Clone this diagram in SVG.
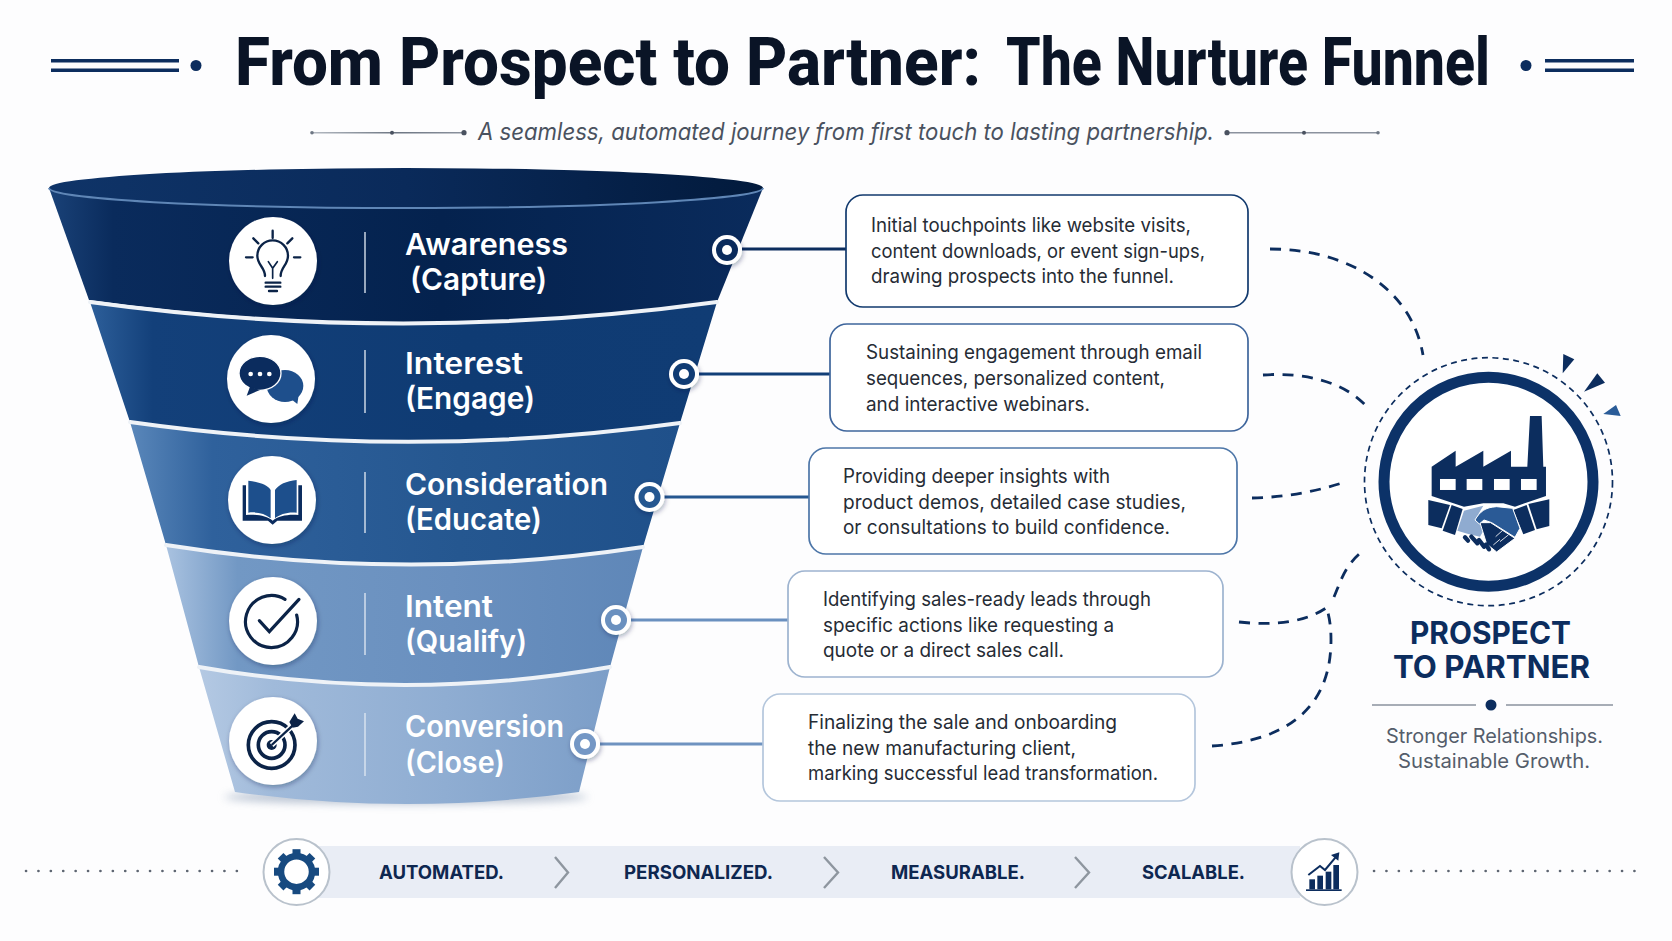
<svg xmlns="http://www.w3.org/2000/svg" width="1672" height="941" viewBox="0 0 1672 941">
<style>
.title{font:800 66px Roboto,"Liberation Sans",sans-serif;fill:#0a1426}
.sub{font:italic 400 24px Inter,"Noto Sans",sans-serif;fill:#4a5260}
.lab{font:600 30px Inter,"Liberation Sans",sans-serif;fill:#fff}
.body{font:400 19.5px Inter,"Noto Sans",sans-serif;fill:#262c35}
.big{font:700 31px Inter,"Liberation Sans",sans-serif;fill:#0c2d5e}
.tag{font:400 20px Inter,"Noto Sans",sans-serif;fill:#555d6b}
.key{font:700 19px Inter,"Liberation Sans",sans-serif;fill:#0e2750}
.box{fill:#fff;stroke-width:1.7}
.rim{fill:none;stroke:#eef2f7;stroke-width:4;stroke-linecap:round}
.dv{stroke:#dfe7f2;stroke-width:1.6;opacity:.85}
.disc{fill:#fff;filter:url(#sh)}
.ln{stroke-width:3;fill:none}
.dash{fill:none;stroke:#0c2d5e;stroke-width:2.8;stroke-dasharray:11 8.500}
.ink{fill:none;stroke:#0b2347;stroke-width:7;stroke-linecap:round}
.ink.thick{stroke-width:9.500}
.ink.thin{stroke-width:5}
.chev{fill:none;stroke:#8e969f;stroke-width:2.4}
.dots{stroke:#5e6672;stroke-width:2.6;stroke-linecap:round;stroke-dasharray:0.1 12.3;fill:none}
.fine{stroke:#8b929e;stroke-width:1.6}
.navy{fill:#0c2d5e}
.bubble{fill:#fff;stroke:#b9c2cc;stroke-width:2}
</style>
<defs>
<filter id="sh" x="-30%" y="-30%" width="160%" height="160%"><feDropShadow dx="1" dy="2" stdDeviation="2.5" flood-color="#0a1f44" flood-opacity=".35"/></filter>
<filter id="blur" x="-20%" y="-100%" width="140%" height="300%"><feGaussianBlur stdDeviation="4"/></filter>
<linearGradient id="g1"><stop offset="0" stop-color="#1a4278"/><stop offset=".09" stop-color="#0a2b5c"/><stop offset=".55" stop-color="#04224e"/><stop offset="1" stop-color="#0a2b5c"/></linearGradient>
<linearGradient id="g2"><stop offset="0" stop-color="#2d5f9a"/><stop offset=".1" stop-color="#13407a"/><stop offset=".6" stop-color="#0f3b73"/><stop offset="1" stop-color="#103c74"/></linearGradient>
<linearGradient id="g3"><stop offset="0" stop-color="#5a87ba"/><stop offset=".15" stop-color="#2f619c"/><stop offset=".6" stop-color="#255790"/><stop offset="1" stop-color="#1f508a"/></linearGradient>
<linearGradient id="g4"><stop offset="0" stop-color="#a9c2e0"/><stop offset=".15" stop-color="#7298c4"/><stop offset=".6" stop-color="#6a90bf"/><stop offset="1" stop-color="#5f87b8"/></linearGradient>
<linearGradient id="g5"><stop offset="0" stop-color="#b4c9e3"/><stop offset=".18" stop-color="#a0bada"/><stop offset=".6" stop-color="#8fadd2"/><stop offset="1" stop-color="#7c9ec8"/></linearGradient>
<linearGradient id="mouth" x1="0" x2="1" y1="0" y2="0"><stop offset="0" stop-color="#0f3468"/><stop offset=".5" stop-color="#0a2a5a"/><stop offset="1" stop-color="#021a3c"/></linearGradient>
<linearGradient id="fadeL" gradientUnits="userSpaceOnUse" x1="312" y1="0" x2="464" y2="0"><stop offset="0" stop-color="#b4bac2"/><stop offset=".55" stop-color="#6d7683"/><stop offset="1" stop-color="#8b929e"/></linearGradient>
</defs>
<rect width="1672" height="941" fill="#fdfdfe"/>

<g id="header">
<rect class="navy" x="51" y="59" width="128" height="3.500"/><rect class="navy" x="51" y="68.500" width="128" height="3.500"/>
<ellipse class="navy" cx="196" cy="65.500" rx="5.500" ry="5.500"/>
<text class="title" y="85"><tspan x="235" textLength="746" lengthAdjust="spacingAndGlyphs">From Prospect to Partner:</tspan> <tspan x="1006" textLength="484" lengthAdjust="spacingAndGlyphs">The Nurture Funnel</tspan></text>
<ellipse class="navy" cx="1526" cy="65.500" rx="5.500" ry="5.500"/>
<rect class="navy" x="1545" y="59" width="89" height="3.500"/><rect class="navy" x="1545" y="68.500" width="89" height="3.500"/>
<path d="M312 132.700H464" stroke="url(#fadeL)" stroke-width="1.600"/>
<circle cx="312" cy="132.700" r="1.800" fill="#6d7683"/><circle cx="392" cy="132.700" r="2" fill="#4a5260"/><circle cx="464" cy="132.700" r="2.600" fill="#4a5260"/>
<text class="sub" x="478" y="140" textLength="736" lengthAdjust="spacingAndGlyphs">A seamless, automated journey from first touch to lasting partnership.</text>
<path d="M1227 132.700H1378" stroke="#8b929e" stroke-width="1.600"/>
<circle cx="1227" cy="132.700" r="2.600" fill="#4a5260"/><circle cx="1304" cy="132.700" r="2" fill="#4a5260"/><circle cx="1378" cy="132.700" r="1.800" fill="#6d7683"/>
</g>

<g id="connectors">
<path class="ln" stroke="#0c2d5e" d="M742 249H846"/>
<path class="ln" stroke="#123f78" d="M699 374H830"/>
<path class="ln" stroke="#255790" d="M664 497H809"/>
<path class="ln" stroke="#6a90bf" d="M631 620H788"/>
<path class="ln" stroke="#6f93c0" d="M600 744H763"/>
<path class="dash" d="M1270 249C1350 249 1412 290 1423 355"/>
<path class="dash" d="M1263 375C1305 372 1345 382 1367 407"/>
<path class="dash" d="M1252 498Q1300 497 1345 482"/>
<path class="dash" d="M1239 622C1275 626 1305 622 1326 608"/>
<path class="dash" d="M1212 746C1270 742 1331 720 1331 640C1331 625 1329 615 1326 606"/>
<path class="dash" d="M1334 597C1342 578 1345 565 1364 550"/>
</g>

<ellipse cx="406" cy="797" rx="182" ry="7" fill="#7f93ad" opacity=".55" filter="url(#blur)"/>

<g id="stage-conversion">
<path d="M199 667L235 792Q407 816 579 792L610 667Q405 703 199 667Z" fill="url(#g5)"/>
<line class="dv" x1="365" y1="713" x2="365" y2="776"/>
<circle class="disc" cx="273" cy="741" r="44"/>
<g transform="translate(200 560) scale(.3333)">
<circle cx="215" cy="555" r="70" fill="none" stroke="#0b2347" stroke-width="11"/>
<circle cx="215" cy="555" r="40" fill="none" stroke="#0b2347" stroke-width="11"/>
<circle cx="215" cy="555" r="15" fill="#0b2347"/>
<path d="M215 555L285 490" stroke="#fff" stroke-width="16"/>
<path d="M215 555L285 490" stroke="#0b2347" stroke-width="7"/>
<path d="M268 486L284 460L293 476L312 484L294 500L278 503Z" fill="#0b2347"/>
</g>
<text class="lab" x="405" y="737" textLength="159" lengthAdjust="spacingAndGlyphs">Conversion</text>
<text class="lab" x="405" y="773" textLength="100" lengthAdjust="spacingAndGlyphs">(Close)</text>
<circle class="disc" cx="585" cy="744" r="15"/><circle cx="585" cy="744" r="11" fill="#7497c5"/><circle cx="585" cy="744" r="5" fill="#fff"/>
</g>

<g id="stage-intent">
<path d="M166 545L199 667Q405 703 610 667L643 547Q405 583 166 545Z" fill="url(#g4)"/>
<path class="rim" d="M199 667Q405 703 610 667"/>
<line class="dv" x1="365" y1="593" x2="365" y2="655"/>
<circle class="disc" cx="273" cy="621" r="44"/>
<g transform="translate(200 560) scale(.3333)">
<path class="ink thick" d="M255 118A78 78 0 1 0 290 165"/>
<path class="ink thick" d="M178 182L208 215L297 118"/>
</g>
<text class="lab" x="405" y="617" textLength="88" lengthAdjust="spacingAndGlyphs">Intent</text>
<text class="lab" x="405" y="652" textLength="122" lengthAdjust="spacingAndGlyphs">(Qualify)</text>
<circle class="disc" cx="616" cy="620" r="15"/><circle cx="616" cy="620" r="11" fill="#6a90bf"/><circle cx="616" cy="620" r="5" fill="#fff"/>
</g>

<g id="stage-consideration">
<path d="M130 422L166 545Q405 583 643 547L680 423Q405 461 130 422Z" fill="url(#g3)"/>
<path class="rim" d="M166 545Q405 583 643 547"/>
<line class="dv" x1="365" y1="472" x2="365" y2="533"/>
<circle class="disc" cx="272" cy="500" r="44"/>
<g transform="translate(200 210) scale(.3333)">
<path d="M128 826H138V915C170 912 200 918 218 932C235 918 265 912 295 915V826H306V932H232L218 944L204 932H128Z" fill="#0b2c5e"/>
<path d="M145 812C175 815 205 825 212 840V925C195 910 170 905 145 908Z" fill="#1d4f8c"/>
<path d="M225 840C235 825 260 812 290 810V908C265 905 240 912 225 925Z" fill="#1d4f8c"/>
</g>
<text class="lab" x="405" y="495" textLength="203" lengthAdjust="spacingAndGlyphs">Consideration</text>
<text class="lab" x="405" y="530" textLength="137" lengthAdjust="spacingAndGlyphs">(Educate)</text>
<circle class="disc" cx="649.500" cy="497" r="15"/><circle cx="649.500" cy="497" r="11" fill="#255790"/><circle cx="649.500" cy="497" r="5" fill="#fff"/>
</g>

<g id="stage-interest">
<path d="M90 302L130 422Q405 461 680 423L717 302Q405 343 90 302Z" fill="url(#g2)"/>
<path class="rim" d="M130 422Q405 461 680 423"/>
<line class="dv" x1="365" y1="350" x2="365" y2="413"/>
<circle class="disc" cx="271" cy="379" r="44"/>
<g transform="translate(200 210) scale(.3333)">
<ellipse cx="255" cy="528" rx="55" ry="48" fill="#1e4f8c"/><path d="M270 565L292 582L296 555Z" fill="#1e4f8c"/>
<ellipse cx="180" cy="490" rx="63" ry="51" fill="#0b2c5e" stroke="#fff" stroke-width="4"/>
<path d="M150 530L140 557L180 540Z" fill="#0b2c5e"/>
<circle cx="152" cy="492" r="7" fill="#fff"/><circle cx="180" cy="492" r="7" fill="#fff"/><circle cx="208" cy="492" r="7" fill="#fff"/>
</g>
<text class="lab" x="405" y="374" textLength="118" lengthAdjust="spacingAndGlyphs">Interest</text>
<text class="lab" x="405" y="409" textLength="130" lengthAdjust="spacingAndGlyphs">(Engage)</text>
<circle class="disc" cx="684" cy="374" r="15"/><circle cx="684" cy="374" r="11" fill="#103c74"/><circle cx="684" cy="374" r="5" fill="#fff"/>
</g>

<g id="stage-awareness">
<path d="M49 188L89 300Q403 344 717 302L763 188Z" fill="url(#g1)"/>
<path class="rim" d="M90 302Q403 345 717 302"/>
<ellipse cx="406" cy="188" rx="357" ry="20" fill="url(#mouth)"/>
<path d="M49 188A357 20 0 0 0 763 188" fill="none" stroke="#5f86b6" stroke-width="2"/>
<line class="dv" x1="365" y1="232" x2="365" y2="293"/>
<circle class="disc" cx="273" cy="261" r="44"/>
<g transform="translate(200 210) scale(.3333)">
<path class="ink" d="M195 198C195 172 172 165 172 137A46 46 0 1 1 264 137C264 165 242 172 242 198"/>
<path class="ink thin" d="M205 155L218 175L232 155M218 175V205"/>
<path class="ink" d="M197 218H241M197 230H241M207 243H231"/>
<path class="ink" d="M218 62V84M160 85L175 100M277 85L262 100M138 142H158M282 142H301"/>
</g>
<text class="lab" x="405" y="255" textLength="163" lengthAdjust="spacingAndGlyphs">Awareness</text>
<text class="lab" x="410" y="290" textLength="137" lengthAdjust="spacingAndGlyphs">(Capture)</text>
<circle class="disc" cx="727" cy="250" r="15"/><circle cx="727" cy="250" r="11" fill="#0a2b5c"/><circle cx="727" cy="250" r="5" fill="#fff"/>
</g>

<g id="note-awareness">
<rect class="box" x="846" y="195" width="402" height="112" rx="17" stroke="#123a6e"/>
<text class="body" x="871" y="232" textLength="320" lengthAdjust="spacingAndGlyphs">Initial touchpoints like website visits,</text>
<text class="body" x="871" y="258" textLength="334" lengthAdjust="spacingAndGlyphs">content downloads, or event sign-ups,</text>
<text class="body" x="871" y="283" textLength="303" lengthAdjust="spacingAndGlyphs">drawing prospects into the funnel.</text>
</g>
<g id="note-interest">
<rect class="box" x="830" y="324" width="418" height="107" rx="17" stroke="#3e659c"/>
<text class="body" x="866" y="359" textLength="336" lengthAdjust="spacingAndGlyphs">Sustaining engagement through email</text>
<text class="body" x="866" y="385" textLength="299" lengthAdjust="spacingAndGlyphs">sequences, personalized content,</text>
<text class="body" x="866" y="411" textLength="224" lengthAdjust="spacingAndGlyphs">and interactive webinars.</text>
</g>
<g id="note-consideration">
<rect class="box" x="809" y="448" width="428" height="106" rx="17" stroke="#4d76a8"/>
<text class="body" x="843" y="483" textLength="267" lengthAdjust="spacingAndGlyphs">Providing deeper insights with</text>
<text class="body" x="843" y="509" textLength="343" lengthAdjust="spacingAndGlyphs">product demos, detailed case studies,</text>
<text class="body" x="843" y="534" textLength="327" lengthAdjust="spacingAndGlyphs">or consultations to build confidence.</text>
</g>
<g id="note-intent">
<rect class="box" x="788" y="571" width="435" height="106" rx="17" stroke="#9db3cf"/>
<text class="body" x="823" y="606" textLength="328" lengthAdjust="spacingAndGlyphs">Identifying sales-ready leads through</text>
<text class="body" x="823" y="632" textLength="291" lengthAdjust="spacingAndGlyphs">specific actions like requesting a</text>
<text class="body" x="823" y="657" textLength="241" lengthAdjust="spacingAndGlyphs">quote or a direct sales call.</text>
</g>
<g id="note-conversion">
<rect class="box" x="763" y="694" width="432" height="107" rx="17" stroke="#b4c6dc"/>
<text class="body" x="808" y="729" textLength="309" lengthAdjust="spacingAndGlyphs">Finalizing the sale and onboarding</text>
<text class="body" x="808" y="755" textLength="268" lengthAdjust="spacingAndGlyphs">the new manufacturing client,</text>
<text class="body" x="808" y="780" textLength="350" lengthAdjust="spacingAndGlyphs">marking successful lead transformation.</text>
</g>

<g id="partner">
<circle cx="1488.500" cy="481.700" r="124" fill="none" stroke="#0c2d5e" stroke-width="1.700" stroke-dasharray="6 4.500"/>
<circle cx="1488.500" cy="481.700" r="104.500" fill="#fff" stroke="#0c3268" stroke-width="11"/>
<path class="navy" d="M1563.300 354L1574.300 359.300L1562.700 373.300Z"/>
<path class="navy" d="M1597.300 373.300L1605 382.700L1584 391.700Z"/>
<path d="M1616 405L1620.700 416L1603.300 414Z" fill="#2a5c98"/>
<g transform="translate(1340 340) scale(.3333)">
<path class="navy" d="M275 380L347 332V380L430 332V380L513 332V380H562L570 228H605L610 380H618V468L525 500L490 490H430L372 500L275 468Z"/>
<g fill="#fff"><rect x="300" y="417" width="47" height="33"/><rect x="380" y="417" width="47" height="33"/><rect x="462" y="417" width="47" height="33"/><rect x="543" y="417" width="47" height="33"/></g>
<path class="navy" d="M265 480L330 495L305 565L265 555Z"/><path class="navy" d="M335 495L368 507L345 585L308 572Z"/>
<path class="navy" d="M520 510L560 495L585 570L550 583Z"/><path class="navy" d="M565 492L628 478V558L590 568Z"/>
<path d="M372 512L430 497L405 540L440 555L420 590L385 582L352 572Z" fill="#8fabd0"/>
<path d="M420 548L452 548L525 595L470 636L440 612Z" fill="#0c2d5e" stroke="#fff" stroke-width="3"/>
<path d="M405 540C420 515 435 502 470 500L518 505L540 565L525 592L455 548L432 540L418 552Z" fill="#2a5a96" stroke="#fff" stroke-width="3"/>
<path d="M487 572L467 590M505 585L480 605M460 615L480 598" stroke="#fff" stroke-width="2.500"/>
<path d="M375 592L384 602M394 590L412 610M417 600L432 620M438 614L447 628" stroke="#0c2d5e" stroke-width="13" stroke-linecap="round"/>
</g>
<text class="big" x="1410" y="644" textLength="161" lengthAdjust="spacingAndGlyphs">PROSPECT</text>
<text class="big" x="1393" y="678" textLength="197" lengthAdjust="spacingAndGlyphs">TO PARTNER</text>
<path class="fine" d="M1372 705H1476M1506 705H1613"/>
<circle class="navy" cx="1491" cy="705" r="5.500"/>
<text class="tag" x="1386" y="743" textLength="217" lengthAdjust="spacingAndGlyphs">Stronger Relationships.</text>
<text class="tag" x="1398" y="768" textLength="192" lengthAdjust="spacingAndGlyphs">Sustainable Growth.</text>
</g>

<g id="footer">
<path class="dots" d="M26 871H245"/>
<path class="dots" d="M1374 871H1642"/>
<rect x="315" y="846" width="985" height="52" fill="#e9edf5"/>
<circle class="bubble" cx="296.500" cy="872" r="33"/>
<g fill="#174a80" transform="translate(296.500 871.700)">
<rect x="-4" y="-22.500" width="8" height="45"/>
<rect x="-4" y="-22.500" width="8" height="45" transform="rotate(45)"/>
<rect x="-4" y="-22.500" width="8" height="45" transform="rotate(90)"/>
<rect x="-4" y="-22.500" width="8" height="45" transform="rotate(135)"/>
<circle r="15.500" fill="#fff" stroke="#174a80" stroke-width="6.500"/>
</g>
<circle class="bubble" cx="1324.500" cy="872" r="33"/>
<g transform="translate(1270 820) scale(.3333)" class="navy">
<rect x="118" y="178" width="17" height="30"/><rect x="142" y="167" width="17" height="41"/><rect x="167" y="155" width="17" height="53"/><rect x="190" y="135" width="17" height="73"/>
<rect x="108" y="208" width="107" height="5"/>
<path d="M115 165L150 138L165 150L196 113" fill="none" stroke="#0c2d5e" stroke-width="6"/>
<path d="M183 105L208 97L205 122Z"/>
</g>
<text class="key" x="379" y="879" textLength="125" lengthAdjust="spacingAndGlyphs">AUTOMATED.</text>
<path class="chev" d="M555 857L568 872.500L555 888"/>
<text class="key" x="624" y="879" textLength="149" lengthAdjust="spacingAndGlyphs">PERSONALIZED.</text>
<path class="chev" d="M824 857L838 872.500L824 888"/>
<text class="key" x="891" y="879" textLength="134" lengthAdjust="spacingAndGlyphs">MEASURABLE.</text>
<path class="chev" d="M1075 857L1089 872.500L1075 888"/>
<text class="key" x="1142" y="879" textLength="103" lengthAdjust="spacingAndGlyphs">SCALABLE.</text>
</g>
</svg>
